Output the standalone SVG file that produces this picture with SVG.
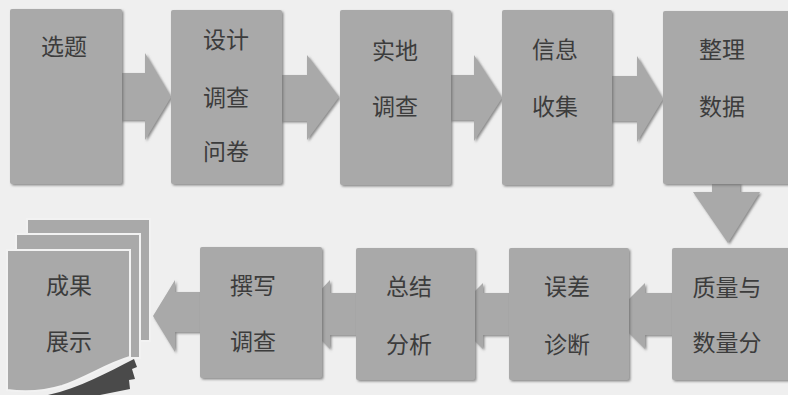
<svg xmlns="http://www.w3.org/2000/svg" width="788" height="395" viewBox="0 0 788 395">
<defs>
<filter id="sh" x="-5%" y="-5%" width="115%" height="115%">
<feDropShadow dx="1.5" dy="1.5" stdDeviation="0.8" flood-color="#6f6f6f" flood-opacity="0.8"/>
</filter>
</defs>
<style>
.box{fill:#a9a9a9;filter:url(#sh)}
.arr{fill:#a9a9a9;filter:url(#sh)}
.page{fill:#a9a9a9;stroke:#f2f2f2;stroke-width:2}
.t{font-family:"Noto Sans CJK SC","Noto Sans",sans-serif;font-size:23px;fill:#3c3c3c;text-anchor:middle}
</style>
<rect width="788" height="395" fill="#efefef"/>
<g id="connectors">
<polygon class="arr" points="120,73 145,73 145,53 171,97 145,140 145,120 120,120"/>
<polygon class="arr" points="280,75 307,75 307,55 339,97 307,140 307,121 280,121"/>
<polygon class="arr" points="449,75 474,75 474,55 502,98 474,141 474,120 449,120"/>
<polygon class="arr" points="610,76 637,76 637,56 663,99 637,142 637,121 610,121"/>
<polygon class="arr" points="712,182 740,182 740,192 760,192 728,243 693,192 712,192"/>
<polygon class="arr" points="674,293 645,293 645,283 612,316 645,349 645,335 674,335"/>
<polygon class="arr" points="511,293 483,293 483,283 450,316 483,349 483,335 511,335"/>
<polygon class="arr" points="358,293 330,293 330,280 297,315 330,349 330,335 358,335"/>
<polygon class="arr" points="202,292 175,292 175,280 153,316 175,352 175,332 202,332"/>
</g>
<g id="n1"><rect class="box" x="10" y="9" width="112" height="175" rx="2"/><text class="t" x="64" y="55">选题</text></g>
<g id="n2"><rect class="box" x="171" y="10" width="111" height="174" rx="2"/><text class="t" x="226" y="48">设计</text><text class="t" x="226" y="106">调查</text><text class="t" x="226" y="160">问卷</text></g>
<g id="n3"><rect class="box" x="340" y="10" width="111" height="175" rx="2"/><text class="t" x="395" y="59">实地</text><text class="t" x="395" y="115">调查</text></g>
<g id="n4"><rect class="box" x="502" y="10" width="110" height="175" rx="2"/><text class="t" x="555" y="58">信息</text><text class="t" x="555" y="115">收集</text></g>
<g id="n5"><rect class="box" x="663" y="11" width="130" height="173" rx="2"/><text class="t" x="722" y="58">整理</text><text class="t" x="722" y="115">数据</text></g>
<g id="n6"><rect class="box" x="672" y="248" width="121" height="132" rx="2"/><text class="t" x="727" y="296">质量与</text><text class="t" x="727" y="351">数量分</text></g>
<g id="n7"><rect class="box" x="509" y="248" width="120" height="132" rx="2"/><text class="t" x="567" y="295">误差</text><text class="t" x="567" y="353">诊断</text></g>
<g id="n8"><rect class="box" x="356" y="248" width="119" height="132" rx="2"/><text class="t" x="409" y="295">总结</text><text class="t" x="409" y="353">分析</text></g>
<g id="n9"><rect class="box" x="200" y="247" width="122" height="131" rx="2"/><text class="t" x="253" y="294">撰写</text><text class="t" x="253" y="350">调查</text></g>
<g id="n10">
<rect class="page" x="27" y="219" width="123" height="122"/>
<rect class="page" x="16" y="234" width="124" height="124"/>
<path d="M48,395 C80,388 108,372 134,359 L137,367 L132,369 L135,379 L129,380 L130,389 L100,395 Z" fill="#4a4a4a"/>
<path class="page" d="M7,250 H130 V357 C106,364 86,378 62,386 C42,392 22,392 7,390 Z"/>
<text class="t" x="69" y="294">成果</text><text class="t" x="69" y="350">展示</text>
</g>
</svg>
